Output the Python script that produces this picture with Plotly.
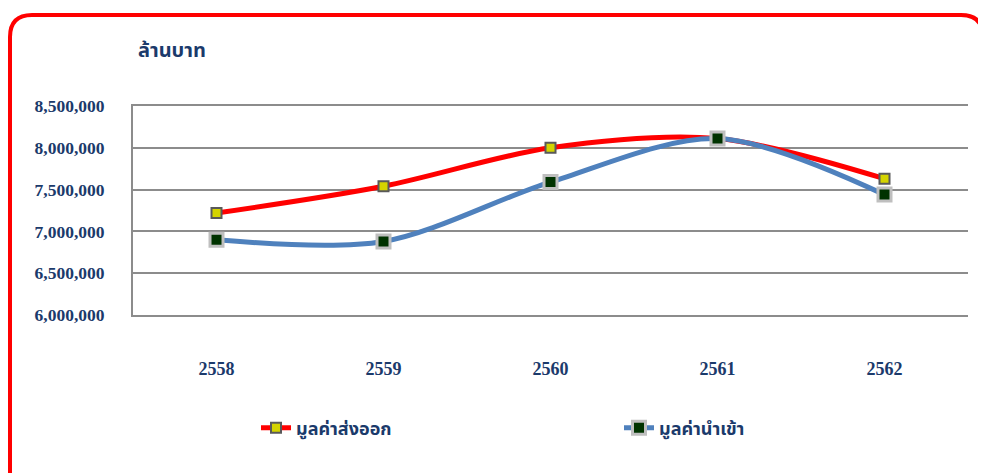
import plotly.graph_objects as go

years = ["2558", "2559", "2560", "2561", "2562"]
export_values = [7220000, 7540000, 8000000, 8110000, 7630000]
import_values = [6900000, 6880000, 7590000, 8110000, 7440000]
y_ticks = [6000000, 6500000, 7000000, 7500000, 8000000, 8500000]
y_tick_labels = ["6,000,000", "6,500,000", "7,000,000", "7,500,000", "8,000,000", "8,500,000"]
series_names = ["มูลค่าส่งออก", "มูลค่านำเข้า"]
unit_label = "ล้านบาท"

OFF = 8  # page body margin
W, H = 978, 465
ML, MT, PW, PH = 125, 98, 835, 209
MR = W - ML - PW
MB = H - MT - PH

def px(x):
    return (x - OFF - ML) / PW

def py(y):
    return (H - MB - (y - OFF)) / PH

NAVY = "#1B3A6B"
THAI = "Tahoma, 'Noto Sans Thai', 'Leelawadee UI', 'Noto Sans', sans-serif"
SERIF = "'Liberation Serif', 'Times New Roman', serif"

fig = go.Figure()
fig.add_trace(go.Scatter(
    x=years, y=export_values, name=series_names[0], mode="lines+markers",
    line=dict(color="#FF0000", width=5, shape="spline", smoothing=0.9),
    marker=dict(symbol="square", size=10, color="#D4D400", line=dict(color="#595959", width=2)),
    legend="legend",
))
fig.add_trace(go.Scatter(
    x=years, y=import_values, name=series_names[1], mode="lines+markers",
    line=dict(color="#4F81BD", width=5, shape="spline", smoothing=0.9),
    marker=dict(symbol="square", size=13, color="#003300", line=dict(color="#BFBFBF", width=3)),
    legend="legend2",
))

# rounded red frame
L, T, R, B, r = 10, 15, 983, 490, 22
path = (f"M {px(L)},{py(T + r)} Q {px(L)},{py(T)} {px(L + r)},{py(T)} "
        f"L {px(R - r)},{py(T)} Q {px(R)},{py(T)} {px(R)},{py(T + r)} "
        f"L {px(R)},{py(B)} L {px(L)},{py(B)} Z")
fig.add_shape(type="path", path=path, xref="paper", yref="paper",
              line=dict(color="#FF0000", width=4), layer="below")

fig.add_annotation(text=f"<b>{unit_label}</b>", x=px(136), y=py(51), xref="paper", yref="paper",
                   xanchor="left", yanchor="middle", showarrow=False,
                   font=dict(family=THAI, size=20, color=NAVY))

legend_font = dict(family=THAI, size=18, color=NAVY, weight="bold")
fig.update_layout(
    width=W, height=H, margin=dict(l=ML, r=MR, t=MT, b=MB),
    paper_bgcolor="white", plot_bgcolor="white",
    showlegend=True,
    legend=dict(x=px(256), y=py(428), xanchor="left", yanchor="middle",
                font=legend_font, bgcolor="rgba(0,0,0,0)", borderwidth=0),
    legend2=dict(x=px(619), y=py(428), xanchor="left", yanchor="middle",
                 font=legend_font, bgcolor="rgba(0,0,0,0)", borderwidth=0),
    font=dict(family=SERIF, color=NAVY),
)
fig.update_xaxes(
    showgrid=False, showline=True, mirror=True, linecolor="#8C8C8C", linewidth=2,
    ticks="", ticklabelstandoff=36,
    tickfont=dict(family=SERIF, size=18, color=NAVY, weight="bold"),
    range=[-0.5, 4.5],
)
fig.update_yaxes(
    range=[6000000, 8500000], tickvals=y_ticks, ticktext=y_tick_labels,
    showgrid=True, gridcolor="#8C8C8C", gridwidth=1.5,
    showline=True, linecolor="#8C8C8C", linewidth=2, zeroline=False,
    ticks="", ticklabelstandoff=23,
    tickfont=dict(family=SERIF, size=17.5, color=NAVY, weight="bold"),
)

fig.write_html("out.html")
